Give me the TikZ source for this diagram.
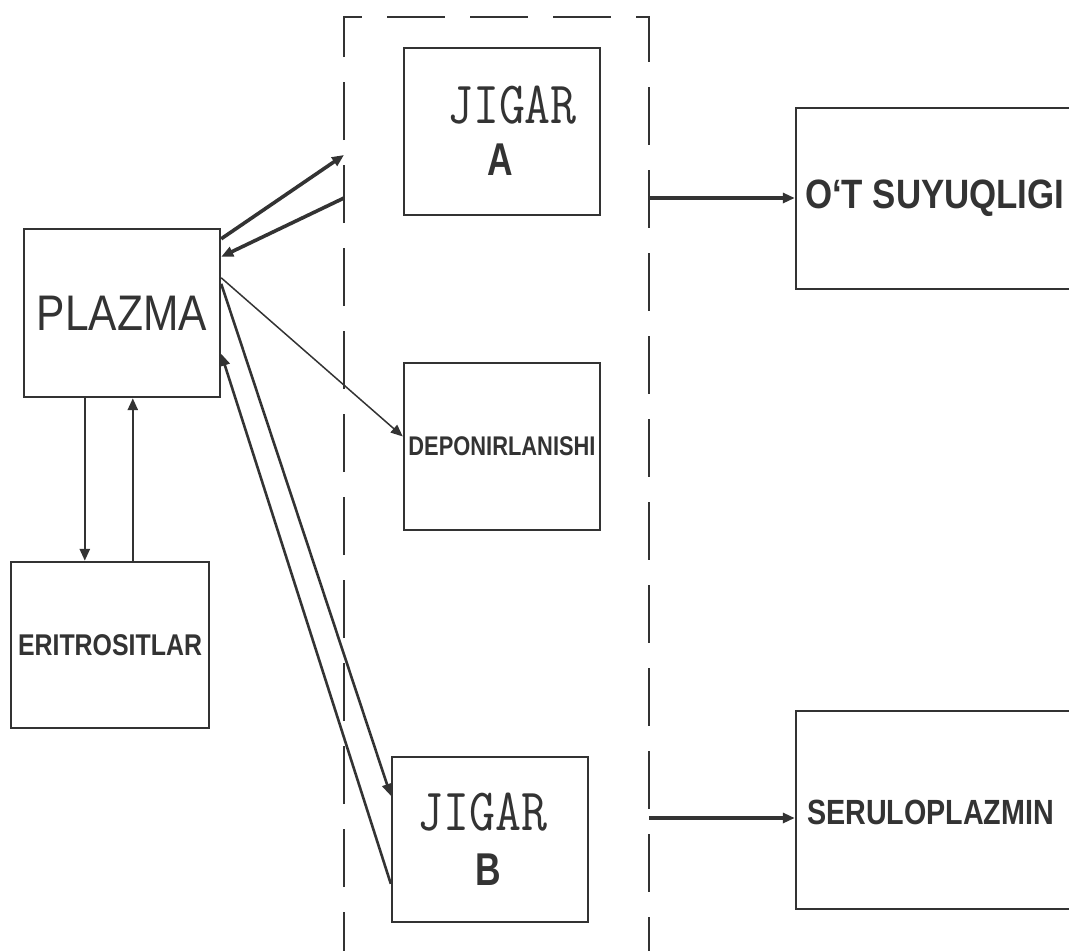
\documentclass[tikz,border=0pt]{standalone}
\usepackage{fontspec}
\setmainfont{Liberation Sans}
\usetikzlibrary{arrows.meta, positioning, calc}
\definecolor{ink}{HTML}{333333}

% squeezed text: factor, size, text
\newcommand{\sqz}[3]{\scalebox{#1}[1]{\fontsize{#2}{#2}\selectfont #3}}

\begin{document}
\begin{tikzpicture}[x=1pt, y=-1pt,
    box/.style={draw=ink, line width=2.4pt, inner sep=0pt, text=ink},
    lbl/.style={inner sep=0pt, text=ink},
    link/.style={draw=ink, line width=2.6pt, -{Triangle[length=12pt, width=10pt]}},
    thinlink/.style={link, line width=1.5pt},
    boldlink/.style={link, line width=3.6pt},
    frame/.style={draw=ink, line width=2.6pt, dash pattern=on 58pt off 25pt}]

    \useasboundingbox (0,0) rectangle (1069,951);
    \clip (0,0) rectangle (1069,951);

    % Left column
    \node[box, minimum width=196pt, minimum height=168pt] (plazma) at (122,313)
        {\sqz{0.85}{50}{PLAZMA}};
    \node[box, minimum width=198pt, minimum height=166pt] (erit) at (110,645)
        {\sqz{0.83}{30}{\bfseries ERITROSITLAR}};

    % Liver column
    \node[box, minimum width=196pt, minimum height=167pt] (jigA) at (502,131.5) {};
    \node[lbl] (jigAname) at ($(jigA.center)+(10,-26.5)$) {\sqz{0.84}{60}{\ttfamily JIGAR}};
    \node[lbl] (jigAlet) at ($(jigA.center)+(-2,28.5)$) {\sqz{0.77}{46}{\bfseries A}};

    \node[box, minimum width=196pt, minimum height=167pt] (depon) at (502,446.5)
        {\sqz{0.81}{27}{\bfseries DEPONIRLANISHI}};

    \node[box, minimum width=196pt, minimum height=165pt] (jigB) at (490,839.5) {};
    \node[lbl] (jigBname) at ($(jigB.center)+(-7.5,-27.5)$) {\sqz{0.84}{60}{\ttfamily JIGAR}};
    \node[lbl] (jigBlet) at ($(jigB.center)+(-2,30.5)$) {\sqz{0.77}{46}{\bfseries B}};

    % Right column
    \node[box, minimum width=304pt, minimum height=181pt] (otbox) at (948,198.5) {};
    \node[lbl, anchor=west] (ottext) at ($(otbox.west)+(10,0)$)
        {\sqz{0.85}{41}{\bfseries O‘T SUYUQLIGI}};
    \node[box, minimum width=304pt, minimum height=198pt] (serbox) at (948,810) {};
    \node[lbl, anchor=west] (sertext) at ($(serbox.west)+(12,2)$)
        {\sqz{0.82}{35}{\bfseries SERULOPLAZMIN}};

    % Dashed frame round the liver
    \coordinate (frameTL) at (344,17);
    \coordinate (frameTR) at (649,17);
    \draw[frame] (344,970) -- (frameTL) -- (frameTR) -- (649,970);
    \coordinate (inA) at (344,155);
    \coordinate (outA) at (344,198);
    \coordinate (rightA) at (649,198);
    \coordinate (rightB) at (649,818);

    % Plasma <-> liver
    \draw[boldlink] ($(plazma.north east)+(0,11)$) -- (inA);
    \draw[boldlink] (outA) -- ($(plazma.north east)+(0,29)$);
    \draw[thinlink] ($(plazma.north east)+(0,50)$) -- ($(depon.west)+(0,-10)$);
    \draw[link] ($(plazma.north east)+(0,56)$) -- ($(jigB.north west)+(0,40)$);
    \draw[link] ($(jigB.north west)+(0,128)$) -- ($(plazma.north east)+(0,126)$);

    % Plasma <-> erythrocytes
    \draw[link] ($(plazma.south west)+(62,0)$) -- ($(erit.north west)+(75,0)$);
    \draw[link] ($(erit.north west)+(123,0)$) -- ($(plazma.south west)+(110,0)$);

    % Out of the liver
    \foreach \src/\dst in {rightA/otbox, rightB/serbox}
        \draw[boldlink] (\src) -- (\src -| \dst.west);
\end{tikzpicture}
\end{document}
